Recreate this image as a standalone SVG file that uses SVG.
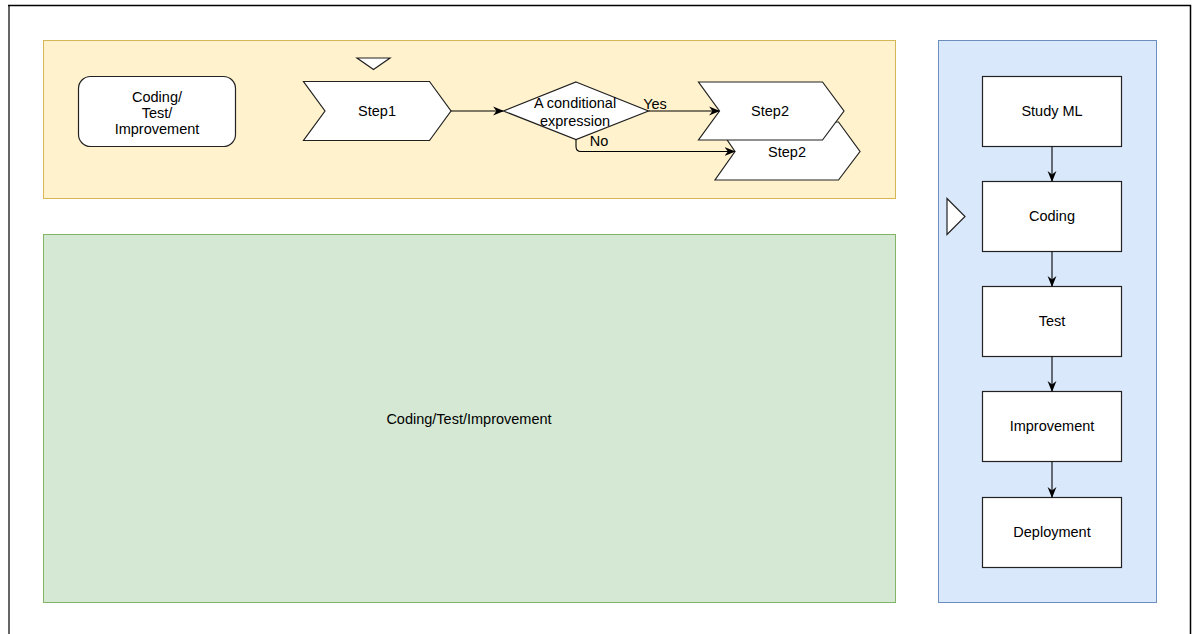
<svg xmlns="http://www.w3.org/2000/svg" width="1203" height="634" viewBox="0 0 1203 634">
<defs>
<style>
.t{font-family:"Liberation Sans",Arial,sans-serif;font-size:14.5px;fill:#000;text-anchor:middle;dominant-baseline:central}
.n{fill:#fff;stroke:#222;stroke-width:1.2}
.e{fill:none;stroke:#000;stroke-width:1.1}
</style>
<marker id="ah" viewBox="0 0 10 10" refX="9" refY="5" markerWidth="11" markerHeight="11" markerUnits="userSpaceOnUse" orient="auto">
<path d="M0,1 L10,5 L0,9 L3,5 Z" fill="#000"/>
</marker>
</defs>
<rect x="0" y="0" width="1203" height="634" fill="#fff"/>
<g id="frame">
<line x1="9" y1="5" x2="9" y2="634" stroke="#666" stroke-width="2"/>
<polyline points="8,5.5 1190.5,5.5 1190.5,634" fill="none" stroke="#000" stroke-width="1.5"/>
</g>
<g id="lane-top"><rect x="43.5" y="40.5" width="852" height="158" fill="#fff2cc" stroke="#d6b656"/></g>
<g id="lane-main"><rect x="43.5" y="234.5" width="852" height="368" fill="#d5e8d4" stroke="#82b366"/><text class="t" x="469" y="419">Coding/Test/Improvement</text></g>
<g id="lane-right"><rect x="938.5" y="40.5" width="218" height="562" fill="#dae8fc" stroke="#6c8ebf"/></g>
<g id="legend"><rect class="n" x="78.5" y="76.5" width="157" height="70" rx="12"/><text class="t" x="157" y="96.5">Coding/</text><text class="t" x="157" y="112.5">Test/</text><text class="t" x="157" y="128.5">Improvement</text></g>
<g id="marker-top"><polygon class="n" points="357,58 390,58 373.5,69.5"/></g>
<g id="step1"><polygon class="n" points="303.5,81.5 429.5,81.5 451,111 429.5,140.5 303.5,140.5 325,111"/><text class="t" x="377" y="111">Step1</text></g>
<g id="cond"><polygon class="n" points="576,82 648.5,111 576,139.5 503.5,111"/><text class="t" x="575" y="103">A conditional</text><text class="t" x="575" y="121">expression</text></g>
<g id="step2b"><polygon class="n" points="715,122 838.5,122 860,151.5 838.5,180 715,180 735,151.5"/><text class="t" x="787" y="152">Step2</text></g>
<g id="step2a"><polygon class="n" points="698.5,82 822.5,82 844,111 822.5,140 698.5,140 719.5,111"/><text class="t" x="770" y="111">Step2</text></g>
<g id="marker-right"><polygon class="n" points="947,198.5 965,216.5 947,234.5"/></g>
<g id="study"><rect class="n" x="982.5" y="76.5" width="139" height="70"/><text class="t" x="1052" y="111">Study ML</text></g>
<g id="coding"><rect class="n" x="982.5" y="181.5" width="139" height="70"/><text class="t" x="1052" y="216">Coding</text></g>
<g id="test"><rect class="n" x="982.5" y="286.5" width="139" height="70"/><text class="t" x="1052" y="321">Test</text></g>
<g id="improvement"><rect class="n" x="982.5" y="391.5" width="139" height="70"/><text class="t" x="1052" y="426">Improvement</text></g>
<g id="deployment"><rect class="n" x="982.5" y="497.5" width="139" height="70"/><text class="t" x="1052" y="532">Deployment</text></g>
<g id="connectors">
<line class="e" x1="451" y1="111" x2="503" y2="111" marker-end="url(#ah)"/>
<line class="e" x1="648.5" y1="111" x2="719" y2="111" marker-end="url(#ah)"/>
<path class="e" d="M576,139.5 V146.5 Q576,151.5 581,151.5 H734.5" marker-end="url(#ah)"/>
<line class="e" x1="1052" y1="146.5" x2="1052" y2="181" marker-end="url(#ah)"/>
<line class="e" x1="1052" y1="251.5" x2="1052" y2="286" marker-end="url(#ah)"/>
<line class="e" x1="1052" y1="356.5" x2="1052" y2="391" marker-end="url(#ah)"/>
<line class="e" x1="1052" y1="461.5" x2="1052" y2="497" marker-end="url(#ah)"/>
<text class="t" x="655" y="104">Yes</text>
<text class="t" x="599" y="141">No</text>
</g>
</svg>
